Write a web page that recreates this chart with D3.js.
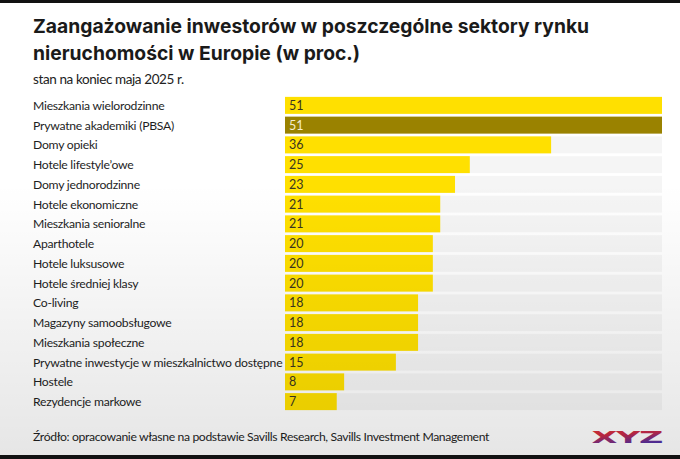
<!DOCTYPE html>
<html>
<head>
<meta charset="utf-8">
<script src="https://cdn.jsdelivr.net/npm/d3@7"></script>
<style>
  html, body { margin: 0; padding: 0; background: #fff; }
  svg { display: block; }
</style>
</head>
<body>
<div id="chart"></div>
<script>
// categories and values, top to bottom as in the source
const categories = [
  "Mieszkania wielorodzinne",
  "Prywatne akademiki (PBSA)",
  "Domy opieki",
  "Hotele lifestyle\u2019owe",
  "Domy jednorodzinne",
  "Hotele ekonomiczne",
  "Mieszkania senioralne",
  "Aparthotele",
  "Hotele luksusowe",
  "Hotele \u015bredniej klasy",
  "Co-living",
  "Magazyny samoobs\u0142ugowe",
  "Mieszkania spo\u0142eczne",
  "Prywatne inwestycje w mieszkalnictwo dost\u0119pne",
  "Hostele",
  "Rezydencje markowe"
]
const values = [51, 51, 36, 25, 23, 21, 21, 20, 20, 20, 18, 18, 18, 15, 8, 7]
const highlighted = ["Prywatne akademiki (PBSA)"]

const titleLines = [
  "Zaanga\u017cowanie inwestor\u00f3w w poszczeg\u00f3lne sektory rynku",
  "nieruchomo\u015bci w Europie (w proc.)"
]
const subtitle = "stan na koniec maja 2025 r."
const source = "\u0179r\u00f3d\u0142o: opracowanie w\u0142asne na podstawie Savills Research, Savills Investment Management"

const data = categories.map((c, i) => ({ name: c, value: values[i] }))

const W = 680, H = 459
const barLeft = 285, barRight = 662
const plotTop = 95.5, plotBottom = 411.5

const svg = d3.select("#chart").append("svg")
  .attr("width", W)
  .attr("height", H)

const defs = svg.append("defs")
const shade = defs.append("linearGradient")
  .attr("id", "shade").attr("x1", 0).attr("y1", 0).attr("x2", 0).attr("y2", 1)
shade.append("stop").attr("offset", "0%").attr("stop-color", "#000").attr("stop-opacity", 0)
shade.append("stop").attr("offset", "40%").attr("stop-color", "#000").attr("stop-opacity", 0)
shade.append("stop").attr("offset", "100%").attr("stop-color", "#000").attr("stop-opacity", 0.1)

const logoGrad = defs.append("linearGradient")
  .attr("id", "logo").attr("x1", 0).attr("y1", 0).attr("x2", 0.3).attr("y2", 1)
logoGrad.append("stop").attr("offset", "0%").attr("stop-color", "#e8342a")
logoGrad.append("stop").attr("offset", "45%").attr("stop-color", "#c42a4a")
logoGrad.append("stop").attr("offset", "100%").attr("stop-color", "#4a2fa8")

svg.append("rect").attr("width", W).attr("height", H).attr("fill", "#fff")

// title
svg.append("g")
  .selectAll("text")
  .data(titleLines)
  .join("text")
  .attr("x", 33)
  .attr("y", (d, i) => 33 + i * 27)
  .attr("font-family", "Inter, Roboto, sans-serif")
  .attr("font-weight", 700)
  .attr("font-size", 19.3)
  .attr("fill", "#1a1a1a")
  .text(d => d)

svg.append("text")
  .attr("x", 33).attr("y", 84)
  .attr("font-family", "Lato, sans-serif")
  .attr("font-size", 13.5)
  .attr("letter-spacing", -0.4)
  .attr("fill", "#222")
  .text(subtitle)

const x = d3.scaleLinear()
  .domain([0, d3.max(values)])
  .range([barLeft, barRight])

const y = d3.scaleBand()
  .domain(categories)
  .range([plotTop, plotBottom])
  .paddingInner(0.14)
  .paddingOuter(0.07)

const rows = svg.append("g").attr("class", "rows")

// grey tracks behind bars
rows.selectAll(".track")
  .data(data)
  .join("rect")
  .attr("class", "track")
  .attr("x", x(0))
  .attr("y", d => y(d.name))
  .attr("width", x.range()[1] - x(0))
  .attr("height", y.bandwidth())
  .attr("fill", "#000")
  .attr("fill-opacity", 0.04)

rows.selectAll(".bar")
  .data(data)
  .join("rect")
  .attr("class", "bar")
  .attr("x", x(0))
  .attr("y", d => y(d.name))
  .attr("width", d => x(d.value) - x(0))
  .attr("height", y.bandwidth())
  .attr("fill", d => highlighted.includes(d.name) ? "#9a8200" : "#ffe000")

rows.selectAll(".value")
  .data(data)
  .join("text")
  .attr("class", "value")
  .attr("x", x(0) + 4)
  .attr("y", d => y(d.name) + y.bandwidth() / 2)
  .attr("dy", "0.36em")
  .attr("font-family", "Lato, sans-serif")
  .attr("font-size", 12.5)
  .attr("fill", d => highlighted.includes(d.name) ? "#f4ecd0" : "#3a3520")
  .text(d => d.value)

rows.selectAll(".label")
  .data(data)
  .join("text")
  .attr("class", "label")
  .attr("x", 33)
  .attr("y", d => y(d.name) + y.bandwidth() / 2)
  .attr("dy", "0.36em")
  .attr("font-family", "Lato, sans-serif")
  .attr("font-size", 12.2)
  .attr("letter-spacing", -0.25)
  .attr("fill", "#1e1e1e")
  .text(d => d.name)

svg.append("text")
  .attr("x", 33).attr("y", 441)
  .attr("font-family", "Lato, sans-serif")
  .attr("font-size", 12.2)
  .attr("letter-spacing", -0.36)
  .attr("fill", "#1e1e1e")
  .text(source)

// logo
svg.append("text")
  .attr("x", 662).attr("y", 443)
  .attr("text-anchor", "end")
  .attr("font-family", "DejaVu Sans, sans-serif")
  .attr("font-weight", 700)
  .attr("font-size", 24)
  .attr("letter-spacing", -1)
  .attr("transform", "translate(662,443) scale(1.4,0.68) translate(-662,-443)")
  .attr("fill", "url(#logo)")
  .text("XYZ")

// vignette of the screenshot
svg.append("rect").attr("width", W).attr("height", H)
  .attr("fill", "url(#shade)").attr("pointer-events", "none")

// black strips at the top and bottom edge
svg.append("rect").attr("x", 0).attr("y", 0).attr("width", W).attr("height", 3).attr("fill", "#111")
svg.append("rect").attr("x", 0).attr("y", 455).attr("width", W).attr("height", 4).attr("fill", "#111")
</script>
</body>
</html>
